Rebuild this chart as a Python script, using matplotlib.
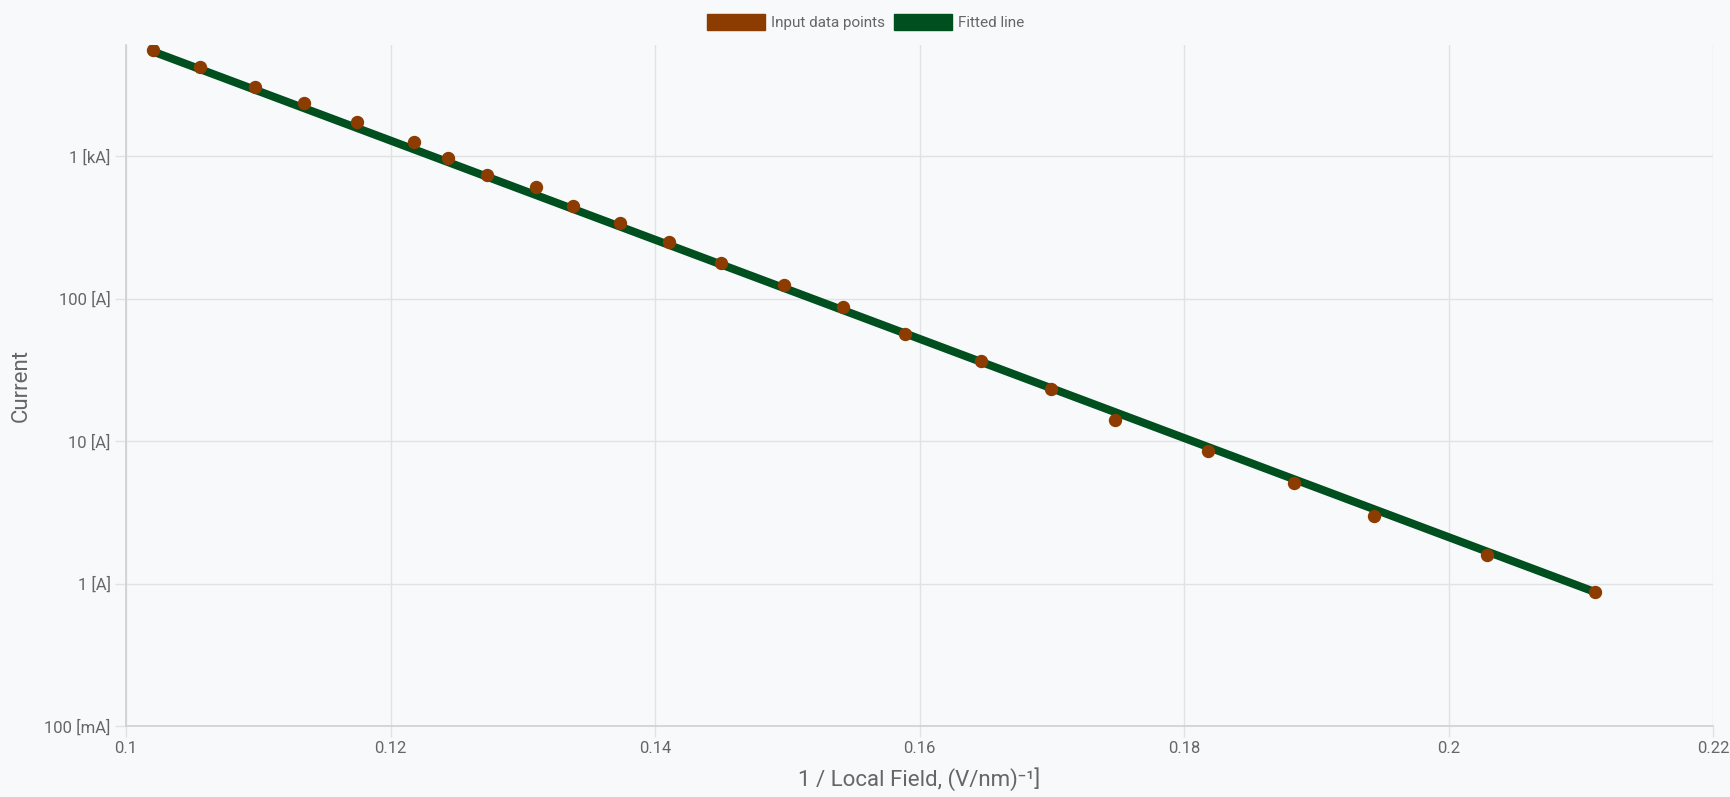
import matplotlib
matplotlib.use("Agg")
import matplotlib.pyplot as plt
from matplotlib.patches import Patch
from matplotlib.ticker import FixedLocator, NullLocator

plt.rcParams['font.family'] = ['Roboto', 'DejaVu Sans']

# Data
inv_field = [0.10206, 0.10560, 0.10976, 0.11349, 0.11749, 0.12180, 0.12433, 0.12733,
             0.13099, 0.13383, 0.13736, 0.14109, 0.14500, 0.14979, 0.15421, 0.15887,
             0.16464, 0.16994, 0.17482, 0.18181, 0.18832, 0.19437, 0.20291, 0.21110]
current = [5545, 4236, 3065, 2343, 1723, 1248, 963, 736,
           603, 448, 337, 248, 178, 124, 86.8, 56.1,
           36.6, 23.1, 14.1, 8.51, 5.05, 2.98, 1.58, 0.87]

fit_x = [0.10206, 0.21110]
fit_y = [5400, 0.87]

y_ticks = [0.1, 1, 10, 100, 1000]
y_tick_labels = ["100 [mA]", "1 [A]", "10 [A]", "100 [A]", "1 [kA]"]
x_ticks = [0.1, 0.12, 0.14, 0.16, 0.18, 0.2, 0.22]
x_tick_labels = ["0.1", "0.12", "0.14", "0.16", "0.18", "0.2", "0.22"]

POINT_COLOR = "#8c3c00"
LINE_COLOR = "#004f1e"
BG = "#f8f9fb"
GRID = "#e1e2e4"
TEXT = "#666666"

fig = plt.figure(figsize=(17.31, 7.97), dpi=100, facecolor=BG)
ax = fig.add_axes([126/1731, 1-726/797, (1713-126)/1731, (726-45)/797])
ax.set_facecolor(BG)

ax.plot(fit_x, fit_y, color=LINE_COLOR, linewidth=5.8, solid_capstyle="butt", zorder=3)
ax.plot(inv_field, current, linestyle="none", marker="o", markersize=8.6,
        markerfacecolor=POINT_COLOR, markeredgecolor=POINT_COLOR, zorder=4)

ax.set_yscale("log")
ax.set_xlim(0.1, 0.22)
ax.set_ylim(0.1, 6012)

ax.yaxis.set_major_locator(FixedLocator(y_ticks))
ax.yaxis.set_minor_locator(NullLocator())
ax.set_yticks(y_ticks)
ax.set_yticklabels(y_tick_labels)
ax.set_xticks(x_ticks)
ax.set_xticklabels(x_tick_labels)

ax.grid(True, color=GRID, linewidth=1.0)
ax.set_axisbelow(True)
for s in ["top", "right"]:
    ax.spines[s].set_visible(False)
for s in ["left", "bottom"]:
    ax.spines[s].set_color("#cfd0d2")
    ax.spines[s].set_linewidth(1.2)

ax.tick_params(axis="both", length=8, width=1.0, color=GRID, labelcolor=TEXT,
               labelsize=12, pad=3)

ax.set_ylabel("Current", fontsize=16, color=TEXT)
ax.yaxis.set_label_coords((32 - 126) / 1587, 0.5)
ax.set_xlabel("1 / Local Field, (V/nm)\u207b\u00b9]", fontsize=16, color=TEXT, labelpad=8)

handles = [Patch(facecolor=POINT_COLOR, edgecolor=POINT_COLOR, label="Input data points"),
           Patch(facecolor=LINE_COLOR, edgecolor=LINE_COLOR, label="Fitted line")]
leg = fig.legend(handles=handles, loc="center", bbox_to_anchor=(0.5, 1-22/797), ncol=2,
                 frameon=False, fontsize=11, handlelength=3.8, handleheight=1.25,
                 handletextpad=0.4, columnspacing=0.6, labelcolor=TEXT)

fig.savefig("out.png", dpi=100, facecolor=BG)
